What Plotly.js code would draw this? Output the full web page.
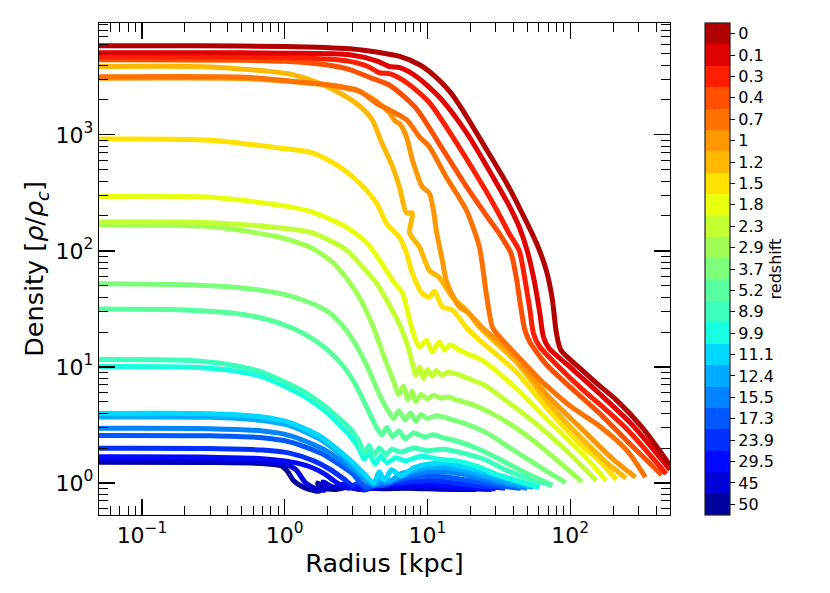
<!DOCTYPE html>
<html><head><meta charset="utf-8">
<script src="https://cdn.plot.ly/plotly-3.0.1.min.js"></script>
<style>html,body{margin:0;padding:0;background:#fff}#chart{width:830px;height:593px}</style>
</head><body><div id="chart"></div>
<script>
const redshiftLabels = ['0','0.1','0.3','0.4','0.7','1','1.2','1.5','1.8','2.3','2.9','3.7','5.2','8.9','9.9','11.1','12.4','15.5','17.3','23.9','29.5','45','50'];

const r_z0 = [0.05, 0.25, 1.0, 2.85, 4.6, 6.4, 8.8, 11.2, 14.3, 17.6, 24.3, 35.7, 46, 58, 68, 75, 80, 86, 121, 160, 210, 320, 500];
const rho_z0 = [5860, 5850, 5780, 5520, 5130, 4740, 4020, 3230, 2370, 1645, 853, 386, 212, 117, 68, 38, 19.6, 14, 9.4, 6.9, 5.2, 3.0, 1.42];

const r_z01 = [0.05, 0.5, 1.0, 2.85, 4.5, 5.4, 6.4, 8.4, 12.1, 18.8, 30.4, 37, 44, 50, 56, 61, 65, 71, 95, 160, 270, 500];
const rho_z01 = [5100, 5090, 5050, 4900, 4300, 3880, 3790, 3170, 2120, 1040, 385, 250, 160, 100, 55, 30, 18, 14.5, 10.5, 5.9, 3.2, 1.3];

const r_z03 = [0.05, 0.5, 1.0, 2.0, 2.85, 3.8, 4.6, 5.5, 7.2, 10.3, 16, 26, 31.5, 37.5, 44, 48, 52, 55.5, 61, 80, 120, 160, 250, 470];
const rho_z03 = [4700, 4690, 4650, 4500, 4300, 3900, 3430, 3350, 2800, 1900, 850, 320, 210, 140, 100, 58, 32, 19, 15, 10.5, 6.5, 4.8, 2.9, 1.2];

const r_z04 = [0.05, 0.5, 1.0, 2.0, 2.85, 4.0, 5.5, 8.3, 12.7, 19.6, 26, 32, 38.5, 42, 45, 48, 52, 68, 100, 160, 250, 437];
const rho_z04 = [4440, 4400, 4300, 4000, 3650, 3100, 2650, 1700, 760, 330, 200, 140, 95, 58, 33, 21, 16.5, 10.5, 6.7, 4.0, 2.3, 1.17];

const r_z07 = [0.05, 0.5, 1.1, 2.0, 3.2, 3.51, 4.42, 5.42, 7.13, 8.79, 10.3, 13.5, 18.7, 23.1, 25.8, 28.5, 31, 40, 60, 71, 100, 160, 250, 336];
const rho_z07 = [3170, 3150, 2900, 2700, 2440, 2300, 1860, 1640, 1350, 960, 790, 435, 225, 108, 43, 22, 19, 13.5, 8, 6.6, 4.6, 3.1, 1.9, 1.12];

const r_z10 = [0.05, 0.5, 1.1, 2.0, 3.2, 4.4, 5.42, 6.0, 6.37, 7.13, 7.84, 9.2, 10.3, 11.0, 11.6, 12.7, 13.5, 14.9, 16.7, 19.5, 24, 37, 71, 121, 200, 287];
const rho_z10 = [3075, 3060, 2880, 2680, 2400, 1950, 1545, 1300, 1250, 961, 609, 356, 315, 225, 143, 83.5, 56, 42, 33, 29, 22, 14, 5.5, 2.9, 1.6, 1.12];

const r_z12 = [0.05, 0.3, 1.08, 1.6, 2.2, 3.3, 4.1, 4.7, 5.7, 6.37, 7.13, 7.84, 7.5, 8.79, 10.3, 12.1, 14.9, 18.7, 23.1, 41.9, 71.3, 121, 180, 246];
const rho_z12 = [3880, 3850, 3350, 2900, 2450, 1800, 1350, 900, 530, 356, 212, 212, 143, 108, 68, 59, 40, 31, 22, 11, 4.8, 2.4, 1.5, 1.1];

const r_z15 = [0.05, 0.3, 0.92, 1.57, 2.43, 3.34, 4.42, 5.17, 6.37, 7.13, 7.84, 9.2, 10.3, 11.2, 12.7, 14.9, 18.7, 23.1, 30, 42, 71, 121, 160, 211];
const rho_z15 = [920, 900, 770, 700, 530, 385, 256, 172, 131, 96, 64, 43, 40, 45, 33, 31, 22, 17, 13, 9, 4.2, 2.1, 1.55, 1.07];

const r_z18 = [0.05, 0.3, 0.92, 1.57, 2.7, 3.77, 4.61, 5.7, 6.7, 7.13, 7.84, 8.79, 9.84, 10.8, 12.1, 13.2, 14.3, 16.7, 19, 24.3, 42, 71, 121, 178];
const rho_z18 = [294, 290, 248, 216, 160, 117, 83.5, 56, 43, 33, 20.8, 14.8, 17, 13.5, 16.5, 14, 15.5, 14, 13, 11.4, 6.5, 3.4, 1.8, 1.05];

const r_z23 = [0.05, 0.3, 0.92, 1.57, 2.7, 3.3, 4.4, 5.5, 6.5, 7.3, 7.8, 8.3, 8.8, 9.4, 10, 10.8, 11.5, 12.5, 14, 16, 19, 25, 35, 55, 90, 152];
const rho_z23 = [178, 175, 158, 143, 102, 79, 52.7, 33, 22, 15, 11, 8.5, 10, 8, 9.5, 8.3, 9.3, 8.5, 9, 8.7, 8.0, 7.0, 5.2, 3.4, 2.0, 1.05];

const r_z29 = [0.05, 0.3, 0.92, 1.57, 2.2, 2.8, 3.4, 4.0, 4.6, 5.2, 5.8, 6.3, 6.8, 7.3, 7.8, 8.3, 9, 10, 11, 12.5, 14, 16, 20, 28, 45, 75, 121];
const rho_z29 = [167, 162, 131, 105, 78, 55, 38, 25, 16, 10.5, 7.5, 5.8, 6.8, 5.2, 6.2, 5.0, 5.8, 5.3, 5.7, 5.4, 5.5, 5.2, 4.8, 4.0, 2.8, 1.7, 1.02];

const r_z37 = [0.05, 0.2, 0.5, 0.92, 1.4, 2.0, 2.6, 3.2, 3.8, 4.3, 4.8, 5.3, 5.8, 6.3, 7, 7.6, 8.3, 9, 10, 11.5, 13, 15, 19, 26, 38, 60, 93];
const rho_z37 = [52, 51, 48, 43, 37, 30, 22, 15, 10, 7, 5.2, 4.2, 3.6, 4.2, 3.5, 4.0, 3.4, 3.9, 3.6, 3.8, 3.7, 3.5, 3.2, 2.7, 2.0, 1.4, 1.0];

const r_z52 = [0.05, 0.2, 0.5, 0.92, 1.4, 2.0, 2.6, 3.1, 3.6, 4.0, 4.4, 4.8, 5.2, 5.7, 6.3, 7, 8, 9.5, 11, 13, 16, 22, 32, 50, 75];
const rho_z52 = [31.6, 31, 28.5, 23.8, 19, 14, 10, 7.2, 5.0, 3.8, 3.0, 2.6, 3.0, 2.5, 2.8, 2.4, 2.7, 2.5, 2.6, 2.45, 2.3, 2.0, 1.6, 1.2, 0.96];

const r_z89 = [0.05, 0.2, 0.4, 0.7, 1.0, 1.4, 1.9, 2.4, 2.9, 3.3, 3.6, 3.9, 4.2, 4.6, 5.1, 5.6, 6.5, 8, 10, 13, 18, 25, 35, 50, 75];
const rho_z89 = [11.6, 11.4, 10.5, 9.0, 7.4, 6.0, 4.6, 3.6, 2.9, 2.3, 1.8, 2.1, 1.7, 2.0, 1.75, 1.95, 1.85, 2.0, 1.9, 1.95, 1.8, 1.6, 1.3, 1.1, 0.95];

const r_z99 = [0.05, 0.2, 0.4, 0.7, 1.0, 1.4, 1.9, 2.4, 2.9, 3.3, 3.6, 3.9, 4.3, 4.7, 5.2, 6, 7, 9, 12, 16, 22, 30, 42, 61];
const rho_z99 = [10.1, 10.0, 9.4, 8.2, 6.8, 5.5, 4.2, 3.2, 2.5, 2.0, 1.6, 1.8, 1.45, 1.7, 1.5, 1.65, 1.55, 1.7, 1.6, 1.55, 1.4, 1.2, 1.05, 0.92];

const r_z111 = [0.05, 0.3, 0.7, 1.1, 1.8, 2.4, 3.0, 3.6, 4.2, 4.6, 5, 5.6, 6.5, 8, 10, 13, 17, 25, 40, 60];
const rho_z111 = [3.97, 3.95, 3.7, 3.3, 2.5, 1.9, 1.5, 1.2, 1.0, 1.25, 1.05, 1.3, 1.15, 1.35, 1.45, 1.48, 1.4, 1.25, 1.05, 0.92];

const r_z124 = [0.05, 0.3, 0.7, 1.1, 1.8, 2.4, 3.0, 3.6, 4.2, 4.8, 5.5, 6.5, 8, 10, 13, 17, 25, 38, 55];
const rho_z124 = [3.7, 3.68, 3.45, 3.1, 2.35, 1.8, 1.4, 1.12, 0.98, 1.1, 1.05, 1.2, 1.28, 1.35, 1.36, 1.3, 1.15, 1.0, 0.92];

const r_z155 = [0.05, 0.3, 0.7, 1.1, 1.8, 2.4, 3.0, 3.6, 4.2, 4.8, 5.5, 6.5, 8, 10, 13, 17, 25, 38, 50];
const rho_z155 = [2.96, 2.94, 2.8, 2.55, 2.0, 1.6, 1.3, 1.08, 0.95, 1.0, 1.02, 1.12, 1.2, 1.25, 1.25, 1.2, 1.08, 0.96, 0.9];

const r_z173 = [0.05, 0.3, 0.7, 1.1, 1.8, 2.4, 3.0, 3.4, 3.8, 4.2, 4.8, 5.5, 6.5, 8, 10, 13, 17, 25, 35, 45];
const rho_z173 = [2.57, 2.55, 2.45, 2.25, 1.8, 1.45, 1.2, 1.0, 0.92, 0.98, 0.95, 1.02, 1.08, 1.12, 1.15, 1.13, 1.08, 1.0, 0.93, 0.9];

const r_z239 = [0.05, 0.3, 0.7, 1.1, 1.6, 2.1, 2.6, 3.0, 3.3, 3.7, 4.2, 5, 6, 8, 10, 13, 18, 25, 35];
const rho_z239 = [1.99, 1.98, 1.92, 1.8, 1.55, 1.3, 1.08, 0.95, 1.0, 0.88, 0.95, 0.97, 1.0, 1.03, 1.05, 1.03, 0.98, 0.93, 0.9];

const r_z295 = [0.05, 0.3, 0.7, 1.1, 1.5, 1.9, 2.2, 2.5, 2.8, 3.1, 3.6, 4.2, 5, 6.5, 8, 10, 14, 20, 30];
const rho_z295 = [1.68, 1.67, 1.62, 1.52, 1.38, 1.2, 1.05, 0.95, 0.9, 0.94, 0.87, 0.93, 0.95, 0.97, 0.98, 0.97, 0.94, 0.91, 0.89];

const r_z45 = [0.05, 0.3, 0.7, 1.0, 1.2, 1.4, 1.7, 1.9, 1.85, 2.2, 2.6, 3.0, 3.5, 4.2, 5, 6.5, 9, 13, 20, 28];
const rho_z45 = [1.58, 1.57, 1.52, 1.45, 1.3, 1.0, 0.88, 0.87, 1.02, 0.92, 0.98, 0.9, 0.94, 0.9, 0.93, 0.92, 0.92, 0.9, 0.89, 0.88];

const r_z50 = [0.05, 0.3, 0.7, 0.95, 1.05, 1.15, 1.35, 1.6, 1.75, 1.7, 1.9, 2.3, 2.8, 3.3, 4, 5, 7, 10, 15, 22];
const rho_z50 = [1.51, 1.5, 1.47, 1.4, 1.25, 1.05, 0.92, 0.86, 0.85, 1.0, 0.9, 0.88, 0.92, 0.88, 0.9, 0.89, 0.9, 0.89, 0.88, 0.88];

const xTickVals = [0.1, 1, 10, 100];
const xTickText = ['10<sup>\u22121</sup>', '10<sup>0</sup>', '10<sup>1</sup>', '10<sup>2</sup>'];
const yTickVals = [1, 10, 100, 1000];
const yTickText = ['10<sup>0</sup>', '10<sup>1</sup>', '10<sup>2</sup>', '10<sup>3</sup>'];

const lineColors = ['#b10000','#e00000','#ff1e00','#ff5000','#ff7200','#ff9800','#ffb800','#ffe200','#e8ff0e','#c4ff32','#a0ff56','#7cff7a','#58ff9e','#3cffbc','#16ffe0','#00d8ff','#00acff','#0084ff','#0058ff','#0030ff','#0008ff','#0000d8','#00009c'];

const radii = [r_z0, r_z01, r_z03, r_z04, r_z07, r_z10, r_z12, r_z15, r_z18, r_z23, r_z29, r_z37, r_z52, r_z89, r_z99, r_z111, r_z124, r_z155, r_z173, r_z239, r_z295, r_z45, r_z50];
const densities = [rho_z0, rho_z01, rho_z03, rho_z04, rho_z07, rho_z10, rho_z12, rho_z15, rho_z18, rho_z23, rho_z29, rho_z37, rho_z52, rho_z89, rho_z99, rho_z111, rho_z124, rho_z155, rho_z173, rho_z239, rho_z295, rho_z45, rho_z50];

function minorLog(lo, hi) {
  const out = [];
  for (let e = -3; e <= 4; e++) for (let m = 2; m <= 9; m++) {
    const v = m * Math.pow(10, e);
    if (v > lo && v < hi) out.push(v);
  }
  return out;
}

const FONT = 'DejaVu Sans, Liberation Sans, sans-serif';
const n = redshiftLabels.length;
const traces = [];
for (let i = n - 1; i >= 0; i--) {
  traces.push({
    x: radii[i], y: densities[i], type: 'scatter', mode: 'lines',
    line: {color: lineColors[i], width: 5, shape: 'spline', smoothing: 0.7},
    hoverinfo: 'skip', showlegend: false
  });
}
const cs = [];
for (let k = 0; k < n; k++) {
  const col = lineColors[n - 1 - k];
  cs.push([k / n, col]);
  cs.push([(k + 1) / n, col]);
}
const tv = redshiftLabels.map((_, i) => n - 1 - i);
traces.push({
  x: [1e-4], y: [1e-4], type: 'scatter', mode: 'markers',
  marker: {size: 1, color: [0], cmin: -0.5, cmax: n - 0.5, colorscale: cs, showscale: true,
    colorbar: {
      x: (705 - 99) / 571, xanchor: 'left', xpad: 0, ypad: 0,
      y: 0.5, yanchor: 'middle', len: 1, lenmode: 'fraction',
      thickness: 25, thicknessmode: 'pixels',
      outlinewidth: 1.2, outlinecolor: '#222',
      ticks: 'outside', ticklen: 5, tickwidth: 1, tickcolor: '#000',
      tickvals: tv, ticktext: redshiftLabels,
      tickfont: {family: FONT, size: 16, color: '#000'},
      title: {text: 'redshift', side: 'right', font: {family: FONT, size: 16, color: '#000'}}
    }},
  hoverinfo: 'skip', showlegend: false
});

const xr = [Math.log10(0.05), Math.log10(500)];
const yr = [-0.276, 3.964];
const layout = {
  width: 830, height: 593,
  margin: {l: 99, r: 160, t: 23, b: 78},
  paper_bgcolor: '#fff', plot_bgcolor: '#fff',
  font: {family: FONT, color: '#000'},
  xaxis: {
    type: 'log', range: xr, showgrid: false, zeroline: false,
    showline: true, linecolor: '#000', linewidth: 1.3, mirror: 'allticks',
    ticks: 'inside', ticklen: 16, tickwidth: 1.2, tickcolor: '#000',
    tickmode: 'array', tickvals: xTickVals, ticktext: xTickText,
    tickfont: {family: FONT, size: 22, color: '#000'},
    minor: {ticks: 'inside', ticklen: 9, tickwidth: 1, tickcolor: '#000', tickmode: 'array', tickvals: minorLog(0.05, 500), showgrid: false},
    title: {text: 'Radius [kpc]', font: {family: FONT, size: 25.5, color: '#000'}, standoff: 4}
  },
  yaxis: {
    type: 'log', range: yr, showgrid: false, zeroline: false,
    showline: true, linecolor: '#000', linewidth: 1.3, mirror: 'allticks',
    ticks: 'inside', ticklen: 16, tickwidth: 1.2, tickcolor: '#000',
    tickmode: 'array', tickvals: yTickVals, ticktext: yTickText,
    tickfont: {family: FONT, size: 22, color: '#000'},
    minor: {ticks: 'inside', ticklen: 9, tickwidth: 1, tickcolor: '#000', tickmode: 'array', tickvals: minorLog(0.5, 9500), showgrid: false},
    title: {text: 'Density [<i>\u03c1</i>/<i>\u03c1</i><sub><i>c</i></sub>]', font: {family: FONT, size: 25.5, color: '#000'}, standoff: 4}
  }
};
Plotly.newPlot('chart', traces, layout, {displayModeBar: false, staticPlot: true});
</script>
</body></html>
